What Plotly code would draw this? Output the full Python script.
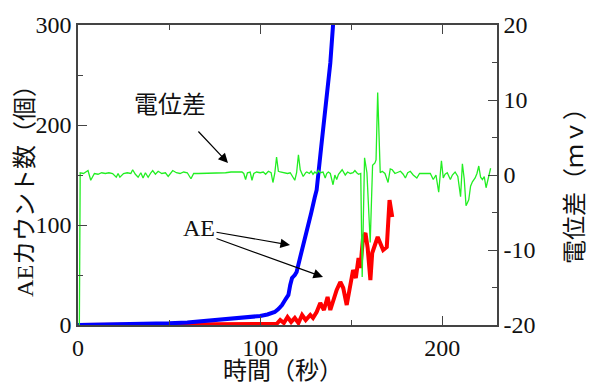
import plotly.graph_objects as go

# ---- data ----
ae_total_t = [0, 20, 40, 50, 60, 70, 85, 95, 100, 104, 108, 110, 112, 114, 115.5, 116.5, 117.5,
              119, 120, 122, 124, 126, 128, 130, 131, 133.5, 135.7, 137.5, 138.5, 140, 141]
ae_total_v = [0, 0.3, 1, 1.7, 2.5, 4, 6.5, 8, 9, 10.5, 13, 16, 20, 26, 30, 40, 47,
              50, 53, 68, 82, 95, 112, 128, 135, 178, 212, 240, 262, 300, 315]

ae_rate_t = [0, 60, 105, 109, 111, 113, 115, 117, 119, 121, 123, 125, 127.5, 129, 131, 133, 135,
             137, 138.5, 140, 142, 144, 145.6, 147.5, 149.5, 151, 152.5, 154, 155, 156.5, 157.8,
             159, 160.5, 161.5, 164.5, 167.5, 169.5, 171, 172.5]
ae_rate_v = [0, 0, 0, 1, 5, 2, 8, 3, 7, 2, 10, 5, 10, 7, 13, 22, 15,
             28, 15, 25, 35, 43, 37, 20, 43, 55, 47, 67, 57, 88, 92,
             77, 45, 72, 88, 75, 78, 125, 108]

pot_t = [0.7, 1.2, 3, 5.5, 7, 9, 11, 13, 15, 17, 19, 21, 22, 23, 25, 27, 29, 30, 31.5, 33, 34.5,
         35.7, 37, 38.5, 40, 41, 42.5, 44, 46, 48, 49.5, 51, 52, 54, 56, 58, 60, 62, 63.5, 66,
         69, 72, 75, 78, 81, 84, 87, 90, 91, 92, 93, 94.5, 95.5, 96.5, 98, 100, 101.7, 103,
         104.5, 106, 107, 108, 109, 110, 111, 112.5, 114, 115, 116.5, 118, 119, 120, 121, 122,
         123.6, 125, 125.6, 127, 128, 129, 130, 131, 132, 133, 134.5, 135.7, 136.5, 137.4,
         138.5, 140, 141, 142, 143, 145, 146.7, 148, 149.5, 151, 152, 153, 154, 155.2, 156.0,
         157.3, 158.6, 160.4, 161.7, 163.0, 163.6, 164.5, 165.9, 167, 168.5, 170.2, 171.4,
         172.5, 174, 175, 177, 178.5, 179.7, 181, 182.4, 184, 186, 187.5, 189.6, 191.5, 193.4,
         195, 196.5, 198, 199.5, 200.5, 201.5, 202.7, 204.4, 205.5, 207, 208.5, 210, 211, 212,
         213, 214.5, 215.5, 216.5, 218, 219, 220, 221, 222, 223, 224, 225.3, 226.5]
pot_v = [-22, 0.3, 0.2, 0.6, -0.7, 0.2, 0.1, 0.3, 0.2, 0.3, 0.2, -0.3, 0.2, -0.3, 0.2, 0.3, 0.2,
         0.7, 0.1, -0.3, 0.3, -0.4, 0.3, -0.3, 0.3, 0.6, 0.1, 0.5, 0.2, 0.3, -0.2, 0.3, 0.6,
         0.3, 0.2, 0.4, 0.3, -0.5, 0.2, 0.2, 0.2, 0.2, 0.3, 0.3, 0.3, 0.4, 0.4, 0.4, 0.2, -0.6,
         0.3, 0.4, -0.7, 0.2, 0.4, 0.3, 0.4, 0.1, 0.5, 0.3, -1.0, 0.2, 2.4, 0.5, 0.4, 0.3, 0.2,
         0.2, 0.3, -0.4, -0.7, 0.3, 2.7, 0.7, -0.2, 0.3, 0.4, 0.2, 0.5, 0.1, 0.4, 0.2, 0.6, 0.3,
         0.4, -0.4, 0.2, 0.4, 0.2, -1.3, 0.0, -0.6, 0.1, 0.7, 0.0, 0.4, 0.2, 0.3, 0.6, 0.3, 0.1,
         0.2, -13.6, 2.3, 0.3, -9.0, 1.3, 1.6, 2.0, 11.0, 0.3, 0.5, 0.2, -1.0, 0.8, 0.7, 0.2,
         0.3, 0.5, 0.1, -0.4, 0.3, 0.5, 0.0, -0.4, 0.2, 0.2, 0.1, 0.2, -0.6, 0.0, -2.3, 1.9,
         -0.4, 0.1, 0.3, -0.6, 0.0, 0.4, -0.2, -2.9, 1.5, -0.5, -4.1, -3.3, -1.5, -0.9, -0.4,
         0.2, 1.2, -0.3, -0.6, -0.2, -1.7, -0.3, 0.9]

x_ticks = [0, 100, 200]
y_ticks = [0, 100, 200, 300]
y2_ticks = [-20, -10, 0, 10, 20]
y2_labels = ["-20", "-10", "0", "10", "20"]

SERIF = "Liberation Serif"
FONT = "Liberation Serif, Noto Sans CJK JP"
AX = "#444444"

fig = go.Figure()
fig.add_trace(go.Scatter(x=ae_rate_t, y=ae_rate_v, mode="lines",
                         line=dict(color="#ff0000", width=4), yaxis="y"))
fig.add_trace(go.Scatter(x=ae_total_t, y=ae_total_v, mode="lines",
                         line=dict(color="#0000ff", width=4), yaxis="y"))
fig.add_trace(go.Scatter(x=pot_t, y=pot_v, mode="lines",
                         line=dict(color="#22ee22", width=1.3), yaxis="y2"))

common = dict(showgrid=False, zeroline=False, showline=True, linecolor=AX, linewidth=1.5,
              ticks="inside", tickcolor=AX, ticklen=9, tickwidth=1.2,
              tickfont=dict(family=SERIF, size=24, color="#111"))
minor = dict(ticks="inside", ticklen=5, tickcolor=AX, tickwidth=1.2)

fig.update_layout(
    width=591, height=383, margin=dict(l=78, r=94, t=25, b=58),
    paper_bgcolor="white", plot_bgcolor="white", showlegend=False,
    font=dict(family=SERIF),
    xaxis=dict(range=[0, 230], tickvals=x_ticks, mirror="ticks",
               minor=dict(dtick=50, tick0=0, **minor), **common),
    yaxis=dict(range=[0, 300], tickvals=y_ticks, mirror=False,
               minor=dict(dtick=50, tick0=0, **minor), **common),
    yaxis2=dict(range=[-20, 20], tickvals=y2_ticks, ticktext=y2_labels, overlaying="y",
                side="right", minor=dict(dtick=5, tick0=0, **minor), **common),
)

ann_font = dict(family=FONT, size=24, color="#111")
C = dict(xanchor="center", yanchor="middle", xref="paper", yref="paper")
fig.add_annotation(text="時間（秒）", x=0.489, y=-0.153, showarrow=False, font=ann_font, **C)
fig.add_annotation(text="AEカウント数（個）", x=-0.1265, y=0.467,
                   textangle=-90, showarrow=False, font=ann_font, **C)
fig.add_annotation(text="電位差（ｍｖ）", x=1.186, y=0.483,
                   textangle=-90, showarrow=False, font=ann_font, **C)

# labels with arrows
fig.add_annotation(text="電位差", x=(170 - 78) / 419, y=(325 - 105) / 300,
                   showarrow=False, font=dict(family=FONT, size=24, color="#111"), **C)
arrow = dict(xref="paper", yref="paper", showarrow=True, arrowhead=2, arrowsize=1.6,
             arrowwidth=1.2, arrowcolor="black", standoff=0, startstandoff=0, text="")
fig.add_annotation(x=(228 - 78) / 419, y=(325 - 163) / 300, ax=-31, ay=-33, **arrow)
fig.add_annotation(text="AE", x=(199 - 78) / 419, y=(325 - 228) / 300,
                   showarrow=False, font=dict(family=SERIF, size=24, color="#111"), **C)
fig.add_annotation(x=(290 - 78) / 419, y=(325 - 245) / 300, ax=-75, ay=-13, **arrow)
fig.add_annotation(x=(323 - 78) / 419, y=(325 - 277) / 300, ax=-108, ay=-39, **arrow)

fig.write_html("out.html")
